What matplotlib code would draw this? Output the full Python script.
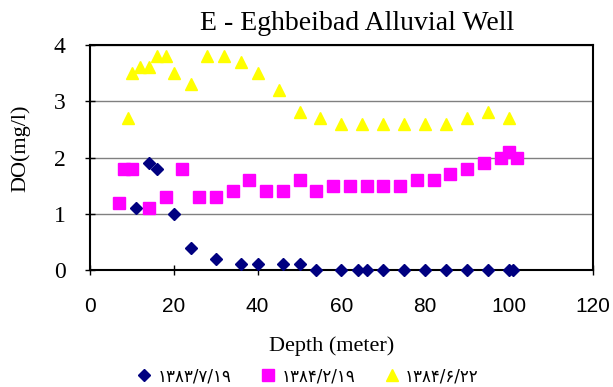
import matplotlib.pyplot as plt

# depth (m) and dissolved oxygen (mg/l) for three sampling dates
depth_1 = [11, 14, 16, 20, 24, 30, 36, 40, 46, 50, 54, 60, 64, 66, 70, 75, 80, 85, 90, 95, 100, 101]
do_1 = [1.1, 1.9, 1.8, 1.0, 0.4, 0.2, 0.1, 0.1, 0.1, 0.1, 0, 0, 0, 0, 0, 0, 0, 0, 0, 0, 0, 0]

depth_2 = [7, 8, 10, 14, 18, 22, 26, 30, 34, 38, 42, 46, 50, 54, 58, 62, 66, 70, 74, 78, 82, 86, 90, 94, 98, 100, 102]
do_2 = [1.2, 1.8, 1.8, 1.1, 1.3, 1.8, 1.3, 1.3, 1.4, 1.6, 1.4, 1.4, 1.6, 1.4, 1.5, 1.5, 1.5, 1.5, 1.5,
        1.6, 1.6, 1.7, 1.8, 1.9, 2.0, 2.1, 2.0]

depth_3 = [9, 10, 12, 14, 16, 18, 20, 24, 28, 32, 36, 40, 45, 50, 55, 60, 65, 70, 75, 80, 85, 90, 95, 100]
do_3 = [2.7, 3.5, 3.6, 3.6, 3.8, 3.8, 3.5, 3.3, 3.8, 3.8, 3.7, 3.5, 3.2, 2.8, 2.7, 2.6, 2.6, 2.6, 2.6,
        2.6, 2.6, 2.7, 2.8, 2.7]

labels = ["۱۳۸۳/۷/۱۹", "۱۳۸۴/۲/۱۹", "۱۳۸۴/۶/۲۲"]

fig = plt.figure(figsize=(6.13, 3.87), dpi=100)
ax = fig.add_axes([0.147, 0.302, 0.82, 0.582])

ax.plot(depth_1, do_1, "D", color="#000080", ms=6, ls="none", label=labels[0], clip_on=False, zorder=3)
ax.plot(depth_2, do_2, "s", color="#FF00FF", ms=8, ls="none", label=labels[1], clip_on=False, zorder=3)
ax.plot(depth_3, do_3, "^", color="#FFFF00", ms=9, ls="none", label=labels[2], clip_on=False, zorder=3)

ax.set_xlim(0, 120)
ax.set_ylim(0, 4)
ax.set_xticks(range(0, 121, 20))
ax.set_yticks(range(0, 5))
ax.yaxis.grid(True, color="#808080", lw=1)
ax.set_axisbelow(True)
for s in ax.spines.values():
    s.set_linewidth(1.5)
ax.tick_params(direction="inout", length=7, width=1)
ax.tick_params(axis="x", labelsize=15, pad=16)
ax.tick_params(axis="y", labelsize=17, pad=14)
for t in ax.get_xticklabels():
    t.set_fontfamily("Liberation Sans")
for t in ax.get_yticklabels():
    t.set_fontfamily("Liberation Serif")

fig.text(0.582, 0.94, "E - Eghbeibad Alluvial Well", family="Liberation Serif", fontsize=20,
         ha="center", va="center")
fig.text(0.541, 0.106, "Depth (meter)", family="Liberation Serif", fontsize=16, ha="center", va="center")
fig.text(0.034, 0.617, "DO(mg/l)", family="Liberation Serif", fontsize=16, ha="center", va="center",
         rotation=90)

fig.legend(loc="center", bbox_to_anchor=(0.5, 0.028), ncol=3, frameon=False,
           prop={"family": ["DejaVu Sans"], "size": 12}, handletextpad=0.2, columnspacing=1.6,
           markerscale=1.0, handlelength=1.2)

fig.savefig("out.png", dpi=100)
